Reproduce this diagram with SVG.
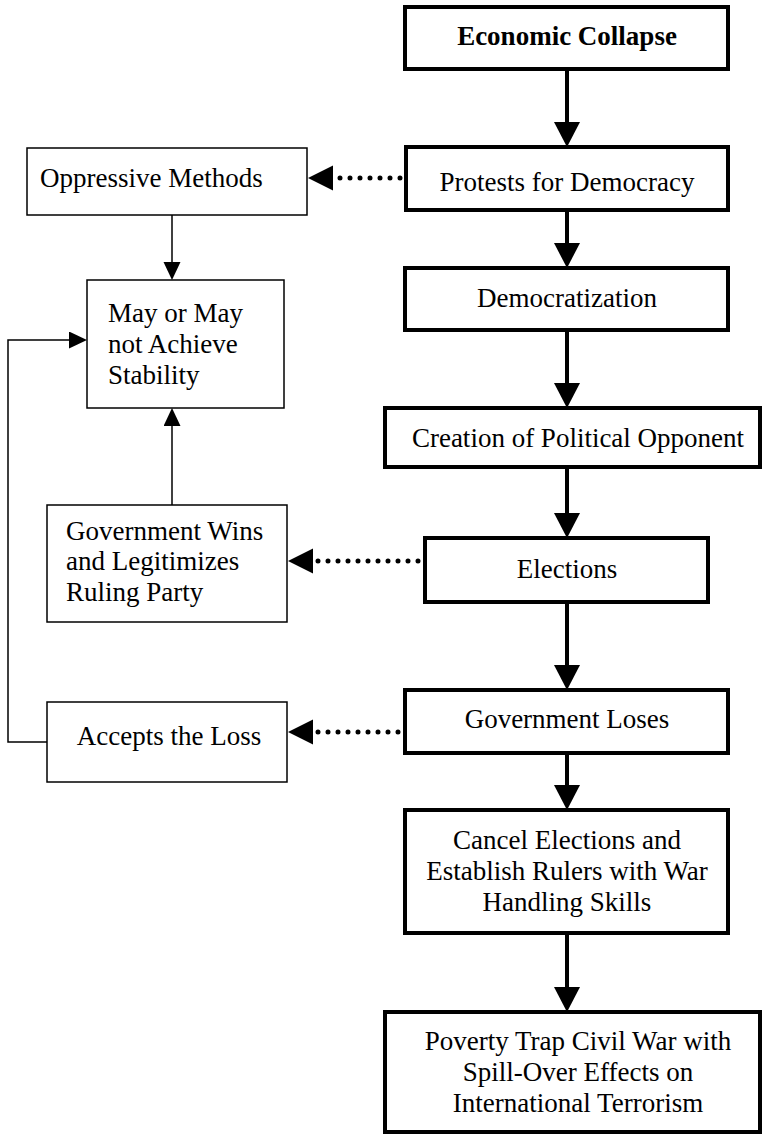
<svg xmlns="http://www.w3.org/2000/svg" width="763" height="1136" viewBox="0 0 763 1136">
<style>
.thick{fill:#fff;stroke:#000;stroke-width:4}
.thin{fill:#fff;stroke:#000;stroke-width:1.5}
text{font-family:"Liberation Serif","Times New Roman",serif;font-size:27px;fill:#000}
.c{text-anchor:middle}
.b{font-weight:bold}
.tl{fill:none;stroke:#000;stroke-width:4}
.dl{fill:none;stroke:#000;stroke-width:5;stroke-dasharray:0 10;stroke-linecap:round}
.nl{fill:none;stroke:#000;stroke-width:1.5}
</style>
<defs>
<marker id="ah" markerUnits="userSpaceOnUse" markerWidth="26" markerHeight="26" refX="15" refY="13" orient="auto"><path d="M0,0 L25,13 L0,26 z" fill="#000"/></marker>
<marker id="ad" markerUnits="userSpaceOnUse" markerWidth="26" markerHeight="26" refX="15" refY="12.5" orient="auto"><path d="M0,0 L25,12.5 L0,25 z" fill="#000"/></marker>
<marker id="as" markerUnits="userSpaceOnUse" markerWidth="19" markerHeight="18" refX="10" refY="8.5" orient="auto"><path d="M0,0 L18,8.5 L0,17 z" fill="#000"/></marker>
</defs>
<g id="connectors">
<path class="tl" d="M567,69 V137" marker-end="url(#ah)"/>
<path class="tl" d="M567,210 V258" marker-end="url(#ah)"/>
<path class="tl" d="M567,330 V398" marker-end="url(#ah)"/>
<path class="tl" d="M567,467 V528" marker-end="url(#ah)"/>
<path class="tl" d="M567,602 V680" marker-end="url(#ah)"/>
<path class="tl" d="M567,753 V800" marker-end="url(#ah)"/>
<path class="tl" d="M567,933 V1002" marker-end="url(#ah)"/>
<path class="dl" d="M400,178 H318" marker-end="url(#ad)"/>
<path class="dl" d="M418,561 H298" marker-end="url(#ad)"/>
<path class="dl" d="M398,732 H298" marker-end="url(#ad)"/>
<path class="nl" d="M172,215 V272" marker-end="url(#as)"/>
<path class="nl" d="M172,505 V416" marker-end="url(#as)"/>
<path class="nl" d="M47,742 H8 V340 H79" marker-end="url(#as)"/>
</g>
<g id="economic-collapse"><rect class="thick" x="405" y="7" width="323" height="62"/><text class="c b" x="567" y="45">Economic Collapse</text></g>
<g id="protests"><rect class="thick" x="406" y="147" width="322" height="63"/><text class="c" x="567" y="191">Protests for Democracy</text></g>
<g id="democratization"><rect class="thick" x="405" y="268" width="323" height="62"/><text class="c" x="567" y="307">Democratization</text></g>
<g id="creation"><rect class="thick" x="385" y="408" width="375" height="59"/><text class="c" x="578" y="447">Creation of Political Opponent</text></g>
<g id="elections"><rect class="thick" x="425" y="538" width="283" height="64"/><text class="c" x="567" y="578">Elections</text></g>
<g id="government-loses"><rect class="thick" x="405" y="690" width="323" height="63"/><text class="c" x="567" y="728">Government Loses</text></g>
<g id="cancel-elections"><rect class="thick" x="405" y="810" width="323" height="123"/><text class="c" x="567" y="849">Cancel Elections and</text><text class="c" x="567" y="880">Establish Rulers with War</text><text class="c" x="567" y="911">Handling Skills</text></g>
<g id="poverty-trap"><rect class="thick" x="385" y="1012" width="375" height="120"/><text class="c" x="578" y="1050">Poverty Trap Civil War with</text><text class="c" x="578" y="1081">Spill-Over Effects on</text><text class="c" x="578" y="1112">International Terrorism</text></g>
<g id="oppressive-methods"><rect class="thin" x="27" y="148" width="280" height="67"/><text x="40" y="187">Oppressive Methods</text></g>
<g id="stability"><rect class="thin" x="87" y="280" width="197" height="128"/><text x="108" y="322">May or May</text><text x="108" y="353">not Achieve</text><text x="108" y="384">Stability</text></g>
<g id="government-wins"><rect class="thin" x="47" y="505" width="240" height="117"/><text x="66" y="540">Government Wins</text><text x="66" y="570">and Legitimizes</text><text x="66" y="601">Ruling Party</text></g>
<g id="accepts-loss"><rect class="thin" x="47" y="702" width="240" height="80"/><text class="c" x="169" y="745">Accepts the Loss</text></g>
</svg>
